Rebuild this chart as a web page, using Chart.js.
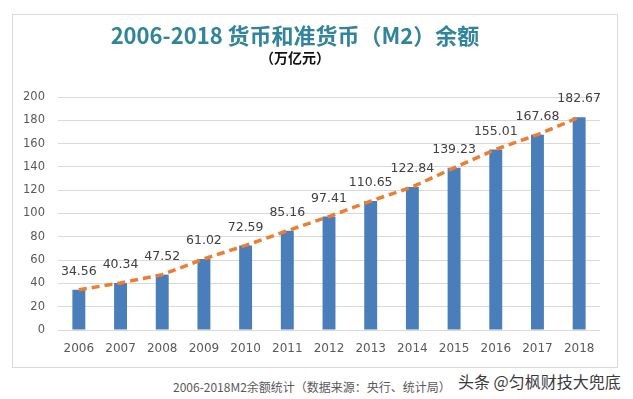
<!DOCTYPE html>
<html>
<head>
<meta charset="utf-8">
<script src="https://cdn.jsdelivr.net/npm/chart.js@4.4.1/dist/chart.umd.min.js"></script>
<style>
  html, body { margin: 0; padding: 0; background: #fff; }
  body { width: 633px; height: 399px; position: relative; overflow: hidden; }
  .frame {
    position: absolute; left: 12px; top: 14px; width: 604px; height: 352px;
    border: 1px solid #d9d9d9;
  }
  .frame canvas { position: absolute; left: 0; top: 0; }
  .title {
    position: absolute; left: 0; width: 590px; top: 20px; text-align: center;
    font: bold 22px "Noto Sans CJK SC", sans-serif; color: #31849b; line-height: 28px;
  }
  .subtitle {
    position: absolute; left: 0; width: 590px; top: 47px; text-align: center;
    font: bold 14px "Noto Sans CJK SC", sans-serif; color: #111; line-height: 20px;
  }
  .caption {
    position: absolute; left: 173px; top: 378px;
    font: 12px "Noto Sans CJK SC", sans-serif; color: #595959; line-height: 18px;
  }
  .mark {
    position: absolute; left: 458px; top: 370px;
    font: 16px "Noto Sans CJK SC", sans-serif; color: #3a3a3a; line-height: 22px;
    text-shadow: 0 0 2px #fff, 0 0 2px #fff;
  }
</style>
</head>
<body>
<div class="frame"><canvas id="m2Chart" width="604" height="352"></canvas></div>
<div class="title">2006-2018 货币和准货币（M2）余额</div>
<div class="subtitle">（万亿元）</div>
<div class="caption">2006-2018M2余额统计（数据来源：央行、统计局）</div>
<div class="mark">头条 @匀枫财技大兜底</div>
<script>
const years = ["2006", "2007", "2008", "2009", "2010", "2011", "2012", "2013", "2014", "2015", "2016", "2017", "2018"];
const m2Values = [34.56, 40.34, 47.52, 61.02, 72.59, 85.16, 97.41, 110.65, 122.84, 139.23, 155.01, 167.68, 182.67];
const yTicks = [0, 20, 40, 60, 80, 100, 120, 140, 160, 180, 200];

const valueLabels = {
  id: "valueLabels",
  afterDatasetsDraw(chart) {
    const meta = chart.getDatasetMeta(0);
    const ctx = chart.ctx;
    ctx.save();
    ctx.font = "12.5px 'DejaVu Sans'";
    ctx.fillStyle = "#404040";
    ctx.textAlign = "center";
    ctx.textBaseline = "middle";
    meta.data.forEach((bar, i) => {
      ctx.fillText(m2Values[i].toFixed(2), bar.x, bar.y - 18);
    });
    ctx.restore();
  },
};

new Chart(document.getElementById("m2Chart"), {
  data: {
    labels: years,
    datasets: [
      {
        type: "bar",
        data: m2Values,
        backgroundColor: "#4a7ebb",
        barPercentage: 0.31,
        categoryPercentage: 1,
        order: 1,
      },
      {
        type: "line",
        data: m2Values,
        borderColor: "#ed7d31",
        borderWidth: 3.5,
        borderDash: [8, 5],
        pointRadius: 0,
        tension: 0,
        order: 0,
      },
    ],
  },
  options: {
    responsive: false,
    animation: false,
    layout: { padding: { top: 82, right: 17, bottom: 0, left: 0 } },
    plugins: { legend: { display: false }, tooltip: { enabled: false } },
    scales: {
      x: {
        grid: { display: false, drawTicks: false },
        border: { display: false },
        afterFit: (scale) => { scale.height = 37; },
        ticks: { color: "#595959", font: { family: "DejaVu Sans", size: 12 }, padding: 12, maxRotation: 0 },
      },
      y: {
        min: 0,
        max: 200,
        afterFit: (scale) => { scale.width = 45; },
        afterBuildTicks: (scale) => { scale.ticks = yTicks.map((v) => ({ value: v })); },
        grid: { color: "#d9d9d9", drawTicks: false },
        border: { display: false },
        ticks: { color: "#595959", font: { family: "DejaVu Sans", size: 11.5 }, padding: 13 },
      },
    },
  },
  plugins: [valueLabels],
});
</script>
</body>
</html>
